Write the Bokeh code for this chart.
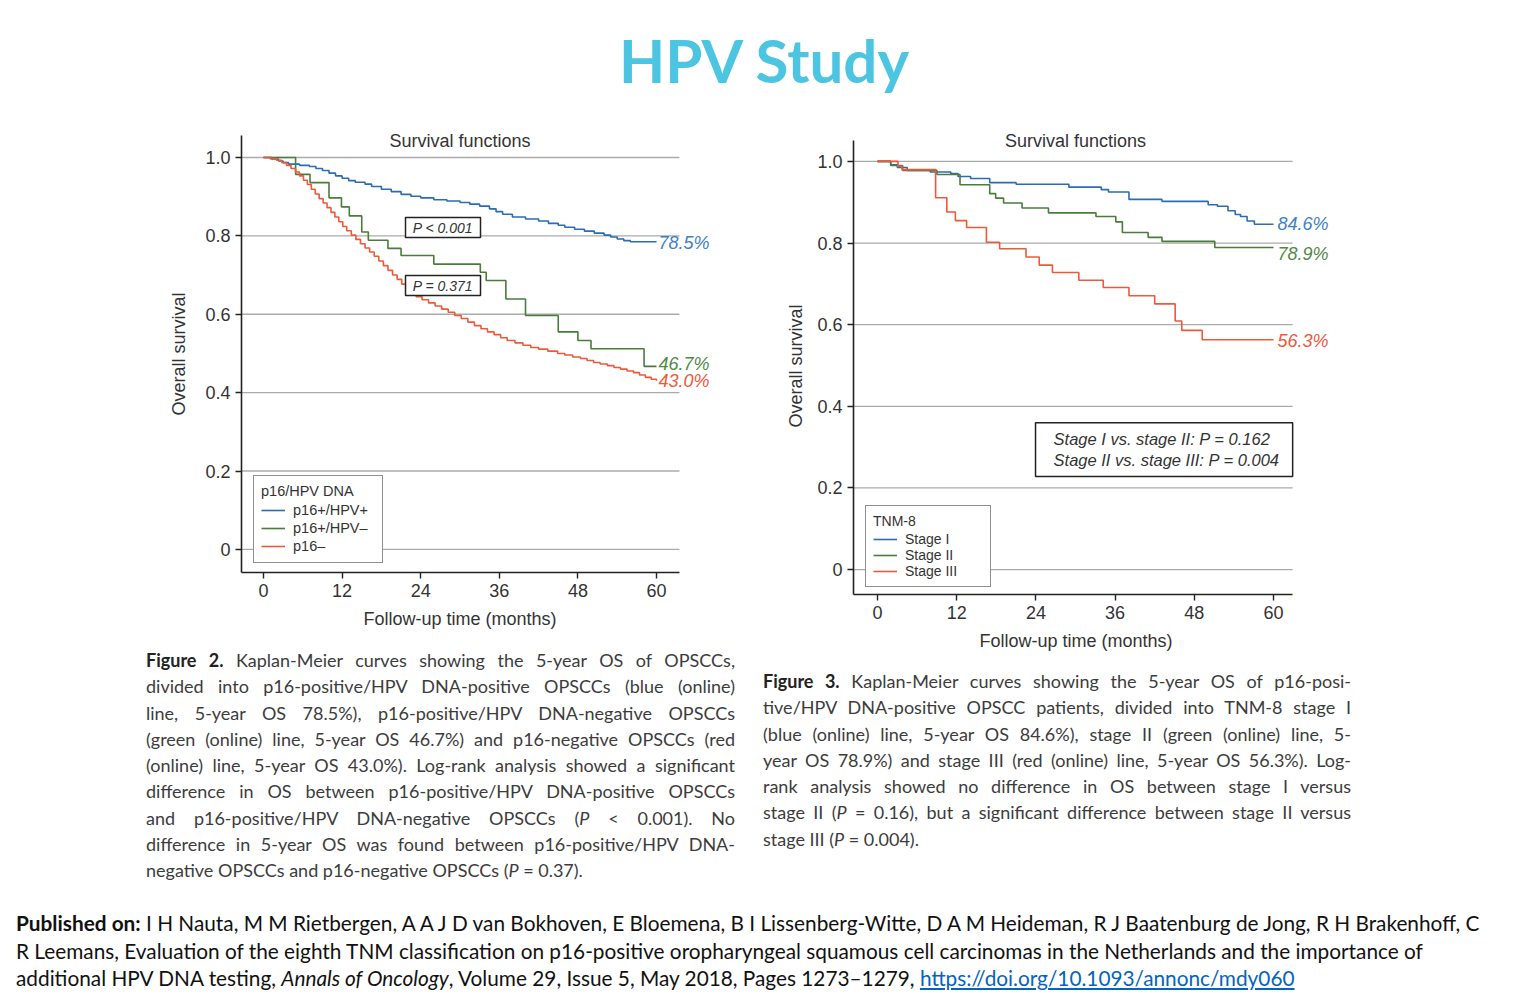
from bokeh.plotting import figure
from bokeh.models import (Range1d, FixedTicker, CustomJSTickFormatter, Legend,
                          LegendItem, Label, Div, BoxAnnotation, Title)
from bokeh.layouts import column, row
from bokeh.embed import file_html
from bokeh.resources import INLINE

# ---------------- data ----------------
month_ticks = [0, 12, 24, 36, 48, 60]
surv_ticks = [0, 0.2, 0.4, 0.6, 0.8, 1.0]

# Figure 2 (p16 / HPV DNA)
f2_t_pos = [0, 1.2, 2.3, 3.0, 3.8, 5.5, 7.0, 8.0, 9.0, 10.0, 11.0, 12.0, 13.0, 14.0,
            15.5, 16.5, 18.0, 19.5, 21.0, 22.5, 24.0, 26.0, 28.0, 30.0, 31.5, 33.0,
            34.5, 35.5, 36.5, 38.0, 40.0, 42.0, 43.5, 45.0, 46.0, 47.5, 49.0, 50.5,
            52.0, 53.0, 54.0, 55.0, 56.0, 60.0]
f2_s_pos = [1.0, 0.996, 0.991, 0.987, 0.983, 0.980, 0.977, 0.972, 0.967, 0.960, 0.953,
            0.947, 0.941, 0.937, 0.932, 0.926, 0.919, 0.913, 0.906, 0.901, 0.897, 0.892,
            0.889, 0.885, 0.881, 0.876, 0.869, 0.862, 0.855, 0.848, 0.843, 0.838, 0.832,
            0.827, 0.822, 0.817, 0.812, 0.807, 0.802, 0.797, 0.792, 0.788, 0.785, 0.785]

f2_t_hpvneg = [0, 4.9, 7.1, 10.0, 11.9, 13.1, 15.0, 16.0, 19.0, 21.0, 26.0, 33.1, 34.0,
               37.0, 40.0, 45.0, 48.0, 50.0, 58.1, 60.0]
f2_s_hpvneg = [1.0, 0.957, 0.936, 0.897, 0.874, 0.851, 0.810, 0.789, 0.768, 0.750, 0.728,
               0.707, 0.686, 0.639, 0.597, 0.555, 0.533, 0.512, 0.467, 0.467]

f2_t_neg = [0, 1.0, 2.0, 2.8, 3.5, 4.2, 4.9, 5.5, 6.1, 6.7, 7.3, 7.9, 8.5, 9.1, 9.7, 10.3,
            10.9, 11.5, 12.1, 12.7, 13.4, 14.1, 14.8, 15.5, 16.2, 16.9, 17.6, 18.3, 19.0,
            19.7, 20.4, 21.1, 21.8, 22.5, 23.3, 24.2, 25.2, 26.2, 27.2, 28.2, 29.2, 30.2,
            31.2, 32.2, 33.2, 34.2, 35.2, 36.2, 37.2, 38.4, 39.6, 40.8, 42.0, 43.4, 44.9,
            46.0, 47.2, 48.4, 49.4, 50.4, 51.4, 52.5, 53.5, 54.5, 55.5, 56.5, 57.4, 58.3,
            59.2, 60.0]
f2_s_neg = [1.0, 0.997, 0.993, 0.987, 0.980, 0.972, 0.963, 0.953, 0.942, 0.931, 0.919,
            0.907, 0.895, 0.884, 0.872, 0.860, 0.848, 0.836, 0.824, 0.813, 0.802, 0.791,
            0.780, 0.769, 0.759, 0.748, 0.736, 0.724, 0.712, 0.700, 0.689, 0.677, 0.666,
            0.655, 0.645, 0.637, 0.629, 0.621, 0.613, 0.605, 0.597, 0.589, 0.580, 0.571,
            0.563, 0.555, 0.548, 0.540, 0.533, 0.527, 0.521, 0.515, 0.511, 0.506, 0.500,
            0.496, 0.491, 0.487, 0.482, 0.477, 0.473, 0.469, 0.464, 0.460, 0.455, 0.451,
            0.445, 0.439, 0.434, 0.430]

f2_names = ["p16+/HPV+", "p16+/HPV\u2013", "p16\u2013"]
f2_final = ["78.5%", "46.7%", "43.0%"]
f2_pvalues = ["P < 0.001", "P = 0.371"]

# Figure 3 (TNM-8 stages)
f3_t_st1 = [0, 2.0, 3.0, 4.5, 8.0, 11.1, 12.2, 14.1, 17.0, 21.0, 29.0, 33.9, 35.0, 38.1,
            43.1, 50.1, 51.5, 53.1, 54.2, 55.0, 56.0, 57.1, 60.0]
f3_s_st1 = [1.0, 0.992, 0.985, 0.978, 0.974, 0.970, 0.963, 0.958, 0.948, 0.944, 0.937,
            0.931, 0.925, 0.907, 0.902, 0.894, 0.890, 0.879, 0.870, 0.865, 0.854, 0.846,
            0.846]

f3_t_st2 = [0, 2.0, 3.8, 9.0, 12.5, 17.0, 17.9, 19.1, 21.9, 25.9, 33.1, 36.1, 37.1, 41.0,
            43.1, 51.1, 60.0]
f3_s_st2 = [1.0, 0.990, 0.978, 0.968, 0.943, 0.921, 0.910, 0.898, 0.886, 0.874, 0.865,
            0.852, 0.826, 0.814, 0.804, 0.789, 0.789]

f3_t_st3 = [0, 3.1, 3.7, 8.8, 10.5, 11.8, 13.5, 16.5, 18.5, 22.5, 24.5, 26.5, 30.5, 34.2,
            38.1, 42.0, 45.1, 46.1, 49.2, 60.0]
f3_s_st3 = [1.0, 0.988, 0.980, 0.911, 0.876, 0.855, 0.838, 0.802, 0.786, 0.766, 0.746,
            0.728, 0.709, 0.691, 0.671, 0.651, 0.609, 0.586, 0.563, 0.563]

f3_names = ["Stage I", "Stage II", "Stage III"]
f3_final = ["84.6%", "78.9%", "56.3%"]
f3_pvalues = ["Stage I vs. stage II: P = 0.162", "Stage II vs. stage III: P = 0.004"]

# ---------------- styling ----------------
FONT = "Liberation Sans"
TXT = "#333333"
LINE_COLORS = ["#2b6cb2", "#4a7c3c", "#ec5a3a"]
LABEL_COLORS = ["#3d80c8", "#4f8a45", "#f0583c"]


def km_figure(width, height, borders, xr, yr, axis_x, axis_y, series, names, finals,
              label_dy, label_x, legend_title, legend_loc, legend_font, item_h, label_w,
              title_y, xlab_offset, ylab_offset, ylab_standoff):
    left, right, top, bottom = borders
    p = figure(width=width, height=height, x_range=Range1d(*xr), y_range=Range1d(*yr),
               output_backend="svg", toolbar_location=None,
               min_border_left=left, min_border_right=right,
               min_border_top=top, min_border_bottom=bottom)
    p.outline_line_color = None
    p.xaxis.ticker = FixedTicker(ticks=month_ticks)
    p.yaxis.ticker = FixedTicker(ticks=surv_ticks)
    p.xaxis.bounds = axis_x
    p.yaxis.bounds = axis_y
    p.yaxis.formatter = CustomJSTickFormatter(
        code="return tick == 0 ? '0' : tick.toFixed(1);")
    for ax in (p.xaxis[0], p.yaxis[0]):
        ax.axis_line_color = "#222222"
        ax.axis_line_width = 1.6
        ax.major_tick_line_color = "#222222"
        ax.major_tick_line_width = 1.4
        ax.major_tick_out = 6
        ax.major_tick_in = 0
        ax.minor_tick_line_color = None
        ax.major_label_text_font = FONT
        ax.major_label_text_font_size = "18px"
        ax.major_label_text_color = TXT
        ax.major_label_standoff = 5
    # axis titles, positioned over the drawn axis extent
    p.add_layout(Title(text="Follow-up time (months)", align="left", offset=xlab_offset,
                       standoff=15, text_font=FONT, text_font_size="18px",
                       text_font_style="normal", text_color=TXT), "below")
    p.add_layout(Title(text="Overall survival", align="left", offset=ylab_offset,
                       standoff=ylab_standoff, text_font=FONT, text_font_size="18px",
                       text_font_style="normal", text_color=TXT), "left")
    p.xgrid.visible = False
    p.ygrid.visible = False
    # horizontal reference lines, limited to the axis extent
    p.segment(x0=[axis_x[0]] * len(surv_ticks), x1=[axis_x[1]] * len(surv_ticks),
              y0=surv_ticks, y1=surv_ticks, line_color="#ababab", line_width=1.3)

    items = []
    for (t, s), name, col in zip(series, names, LINE_COLORS):
        r = p.step(t, s, mode="after", line_color=col, line_width=1.6)
        items.append(LegendItem(label=name, renderers=[r]))
    for (t, s), txt, col, dy in zip(series, finals, LABEL_COLORS, label_dy):
        p.add_layout(Label(x=label_x, y=s[-1] + dy, text=txt, text_align="left",
                           text_baseline="middle", text_font=FONT,
                           text_font_style="italic", text_font_size="18px",
                           text_color=col))
    p.add_layout(Label(x=30, y=title_y, text="Survival functions", text_align="center",
                       text_baseline="middle", text_font=FONT, text_font_size="18px",
                       text_color=TXT))
    legend = Legend(items=items, title=legend_title, location=legend_loc,
                    title_text_font=FONT, title_text_font_size=legend_font,
                    title_text_font_style="normal", title_text_color=TXT,
                    label_text_font=FONT, label_text_font_size=legend_font,
                    label_text_color=TXT, border_line_color="#222222",
                    border_line_width=1.5, background_fill_alpha=1.0,
                    padding=7, spacing=0, margin=0, label_height=item_h,
                    glyph_height=item_h, glyph_width=24, label_standoff=8,
                    title_standoff=2, label_width=label_w)
    p.add_layout(legend)
    return p


def pbox(p, left, right, top, bottom):
    p.add_layout(BoxAnnotation(left=left, right=right, top=top, bottom=bottom,
                               fill_color="white", fill_alpha=1.0,
                               line_color="#222222", line_width=1.5, line_alpha=1.0))


fig1 = km_figure(760, 520, (241, 40, 8, 68), (-3.36, 69.77), (-0.059, 1.074),
                 (-3.36, 63.5), (-0.059, 1.056),
                 [(f2_t_pos, f2_s_pos), (f2_t_hpvneg, f2_s_hpvneg), (f2_t_neg, f2_s_neg)],
                 f2_names, f2_final, [-0.002, 0.005, -0.001], 60.3,
                 "p16/HPV DNA", (12, 9), "14.5px", 18, 82, 1.043, 122, 157, 27)
pbox(fig1, 21.68, 33.13, 0.847, 0.796)
pbox(fig1, 21.68, 33.13, 0.699, 0.648)
for txt, yv in zip(f2_pvalues, [0.821, 0.673]):
    fig1.add_layout(Label(x=27.4, y=yv, text=txt, text_align="center",
                          text_baseline="middle", text_font=FONT,
                          text_font_style="italic", text_font_size="14px",
                          text_color=TXT))

fig2 = km_figure(600, 542, (93, 20, 5, 68), (-3.64, 70.15), (-0.061, 1.088),
                 (-3.64, 62.9), (-0.061, 1.051),
                 [(f3_t_st1, f3_s_st1), (f3_t_st2, f3_s_st2), (f3_t_st3, f3_s_st3)],
                 f3_names, f3_final, [0.0, -0.015, -0.002], 60.6,
                 "TNM-8", (12, 7), "14px", 16, 78, 1.049, 126, 167, 18)
pbox(fig2, 23.94, 62.9, 0.360, 0.228)
fig2.add_layout(Label(x=26.67, y=0.294, text="\n".join(f3_pvalues),
                      text_align="left", text_baseline="middle", text_font=FONT,
                      text_font_style="italic", text_font_size="16.5px",
                      text_color=TXT))

# ---------------- text blocks ----------------
title_div = Div(
    text='<div style="position:relative;top:30px;left:9.5px;width:1509px;'
         'font-family:Lato;font-weight:700;font-size:60px;line-height:60px;'
         'color:#4bc5e1;text-align:center;">HPV Study</div>',
    width=1509, height=120, margin=0)


def caption(lines, left, top, width, height, box_w):
    parts = []
    for i, ln in enumerate(lines):
        last = i == len(lines) - 1
        align = "text-align:left;" if last else "text-align:justify;text-align-last:justify;"
        parts.append('<div style="white-space:nowrap;%s">%s</div>' % (align, ln))
    html = ('<div style="position:relative;left:%dpx;top:%dpx;width:%dpx;'
            'font-family:Lato;font-size:18px;line-height:26.25px;color:#3c3c3c;">%s</div>'
            % (left, top, box_w, "".join(parts)))
    return Div(text=html, width=width, height=height, margin=0)


cap2_lines = [
    '<b style="color:#222">Figure 2.</b> Kaplan-Meier curves showing the 5-year OS of OPSCCs,',
    'divided into p16-positive/HPV DNA-positive OPSCCs (blue (online)',
    'line, 5-year OS 78.5%), p16-positive/HPV DNA-negative OPSCCs',
    '(green (online) line, 5-year OS 46.7%) and p16-negative OPSCCs (red',
    '(online) line, 5-year OS 43.0%). Log-rank analysis showed a significant',
    'difference in OS between p16-positive/HPV DNA-positive OPSCCs',
    'and p16-positive/HPV DNA-negative OPSCCs (<i>P</i> &lt; 0.001). No',
    'difference in 5-year OS was found between p16-positive/HPV DNA-',
    'negative OPSCCs and p16-negative OPSCCs (<i>P</i> = 0.37).',
]
cap3_lines = [
    '<b style="color:#222">Figure 3.</b> Kaplan-Meier curves showing the 5-year OS of p16-posi-',
    'tive/HPV DNA-positive OPSCC patients, divided into TNM-8 stage I',
    '(blue (online) line, 5-year OS 84.6%), stage II (green (online) line, 5-',
    'year OS 78.9%) and stage III (red (online) line, 5-year OS 56.3%). Log-',
    'rank analysis showed no difference in OS between stage I versus',
    'stage II (<i>P</i> = 0.16), but a significant difference between stage II versus',
    'stage III (<i>P</i> = 0.004).',
]
cap1_div = caption(cap2_lines, 146, 7, 760, 243, 589)
cap2_div = caption(cap3_lines, 3, 6, 600, 221, 588)

footer_lines = [
    '<b>Published on:</b> I H Nauta, M M Rietbergen, A A J D van Bokhoven, E Bloemena, '
    'B I Lissenberg-Witte, D A M Heideman, R J Baatenburg de Jong, R H Brakenhoff, C',
    'R Leemans, Evaluation of the eighth TNM classification on p16-positive oropharyngeal '
    'squamous cell carcinomas in the Netherlands and the importance of',
    'additional HPV DNA testing, <i>Annals of Oncology</i>, Volume 29, Issue 5, May 2018, '
    'Pages 1273\u20131279, <span style="color:#0563c1;text-decoration:underline;">'
    'https://doi.org/10.1093/annonc/mdy060</span>',
]
footer_div = Div(
    text='<div style="position:relative;left:16px;top:26px;font-family:Lato;font-size:20.8px;'
         'line-height:27.5px;color:#111;">%s</div>'
         % "".join('<div style="white-space:nowrap;">%s</div>' % ln for ln in footer_lines),
    width=1509, height=110, margin=0)

layout = column(
    title_div,
    row(column(fig1, cap1_div, spacing=0), column(fig2, cap2_div, spacing=0), spacing=0),
    footer_div,
    spacing=0,
)

with open("out.html", "w") as fh:
    fh.write(file_html(layout, INLINE, title="HPV Study"))
